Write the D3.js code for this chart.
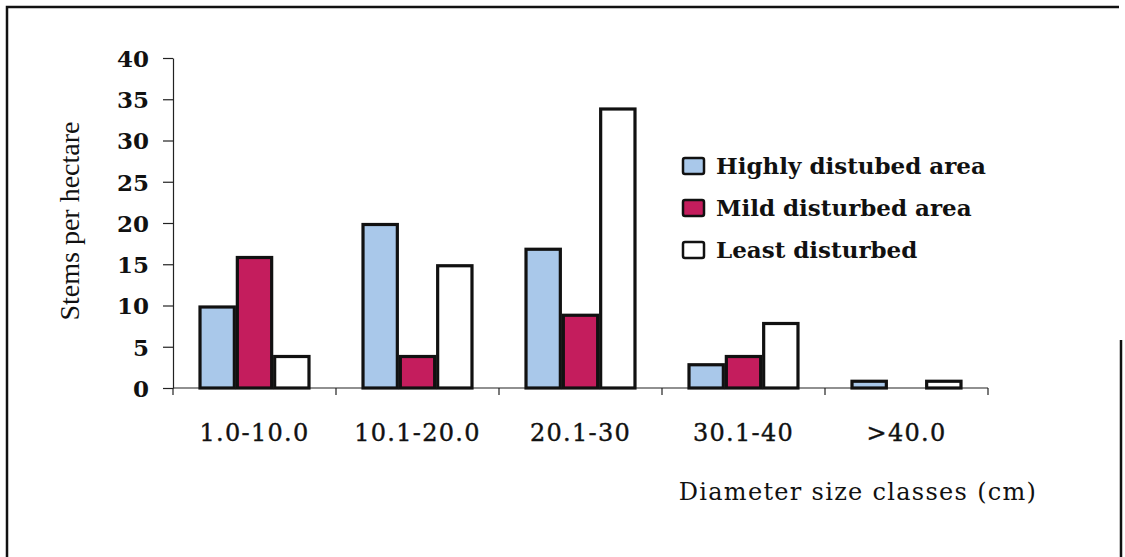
<!DOCTYPE html>
<html>
<head>
  <meta charset="utf-8">
  <title>Stems per hectare</title>
  <script src="https://d3js.org/d3.v7.min.js"></script>
  <style>
    body { margin: 0; background: #fff; }
    .tick line, .domain { stroke: #222; stroke-width: 1.2px; }
  </style>
</head>
<body>
  <script>
    // values
    const classes = ["1.0-10.0", "10.1-20.0", "20.1-30", "30.1-40", ">40.0"];
    const series = ["Highly distubed area", "Mild disturbed area", "Least disturbed"];
    const highly = [10, 20, 17, 3, 1];
    const mild = [16, 4, 9, 4, 0];
    const least = [4, 15, 34, 8, 1];
    const yTicks = [0, 5, 10, 15, 20, 25, 30, 35, 40];
    const colors = ["#a9c8ea", "#c41d5d", "#ffffff"];

    const values = [highly, mild, least];
    const width = 1125, height = 557;
    const plotLeft = 173, plotRight = 988, plotTop = 58, plotBottom = 388;

    const svg = d3.select("body").append("svg")
      .attr("width", width)
      .attr("height", height);

    // frame of the scanned figure (right edge only shows in its lower part)
    svg.append("path")
      .attr("d", "M7,560 L7,7 L1119,7 M1121,340 L1121,560")
      .attr("fill", "none")
      .attr("stroke", "#111")
      .attr("stroke-width", 2.5);

    const x0 = d3.scaleBand().domain(classes).range([plotLeft, plotRight])
      .paddingInner(0.313).paddingOuter(0.1565);
    const x1 = d3.scaleBand().domain(series).range([0, x0.bandwidth()]);
    const y = d3.scaleLinear().domain([0, 40]).range([plotBottom, plotTop]);

    // y axis
    const yAxis = svg.append("g")
      .attr("transform", "translate(" + plotLeft + ",0)")
      .call(d3.axisLeft(y).tickValues(yTicks).tickSize(10).tickSizeOuter(0).tickPadding(14));
    yAxis.selectAll("text")
      .attr("font-family", "DejaVu Serif")
      .attr("font-weight", "bold")
      .attr("font-size", 23)
      .attr("fill", "#111")
      .attr("dy", "0.36em");

    // x axis: ticks at category boundaries
    const bounds = classes.map(c => x0(c) - x0.step() * x0.paddingOuter()).concat([plotRight]);
    const xAxis = svg.append("g")
      .attr("transform", "translate(0," + plotBottom + ")");
    xAxis.append("line")
      .attr("x1", plotLeft).attr("x2", plotRight)
      .attr("stroke", "#222").attr("stroke-width", 1.2);
    xAxis.selectAll(".bt").data(bounds).enter().append("line")
      .attr("x1", d => d).attr("x2", d => d)
      .attr("y1", 0).attr("y2", 7)
      .attr("stroke", "#222").attr("stroke-width", 1.2);
    xAxis.selectAll(".lbl").data(classes).enter().append("text")
      .attr("x", d => x0(d) + x0.bandwidth() / 2)
      .attr("y", 53)
      .attr("text-anchor", "middle")
      .attr("font-family", "DejaVu Serif")
      .attr("font-size", 24)
      .attr("letter-spacing", 1.3)
      .attr("stroke", "#111")
      .attr("stroke-width", 0.4)
      .attr("fill", "#111")
      .text(d => d);

    // bars
    const groups = svg.append("g").selectAll("g").data(classes).enter().append("g")
      .attr("transform", d => "translate(" + x0(d) + ",0)");
    groups.selectAll("rect")
      .data((c, i) => series.map((s, k) => ({ s: s, k: k, v: values[k][i] })).filter(d => d.v > 0))
      .enter().append("rect")
      .attr("x", d => x1(d.s) + 1.5)
      .attr("width", x1.bandwidth() - 3)
      .attr("y", d => y(d.v) + 1.5)
      .attr("height", d => Math.max(0, y(0) - y(d.v) - 1.5))
      .attr("fill", d => colors[d.k])
      .attr("stroke", "#111")
      .attr("stroke-width", 3.2);

    // axis titles
    svg.append("text")
      .attr("transform", "translate(79,221) rotate(-90)")
      .attr("text-anchor", "middle")
      .attr("font-family", "Liberation Serif")
      .attr("font-size", 28)
      .attr("fill", "#111")
      .text("Stems per hectare");

    svg.append("text")
      .attr("x", 858).attr("y", 500)
      .attr("text-anchor", "middle")
      .attr("font-family", "DejaVu Serif")
      .attr("font-size", 24)
      .attr("letter-spacing", 1.3)
      .attr("fill", "#111")
      .text("Diameter size classes (cm)");

    // legend
    const legend = svg.append("g").selectAll("g").data(series).enter().append("g")
      .attr("transform", (d, i) => "translate(683," + (158 + i * 42) + ")");
    legend.append("rect")
      .attr("width", 21).attr("height", 16)
      .attr("rx", 2)
      .attr("fill", (d, i) => colors[i])
      .attr("stroke", "#111")
      .attr("stroke-width", 2.5);
    legend.append("text")
      .attr("x", 33).attr("y", 16)
      .attr("font-family", "DejaVu Serif")
      .attr("font-weight", "bold")
      .attr("font-size", 23)
      .attr("fill", "#111")
      .text(d => d);
  </script>
</body>
</html>
